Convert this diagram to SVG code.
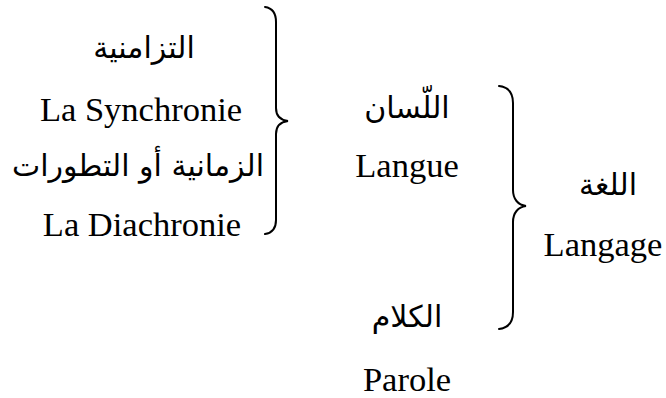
<svg xmlns="http://www.w3.org/2000/svg" width="666" height="398" viewBox="0 0 666 398">
  <style>
    .lat { font-family: "Liberation Serif", "Times New Roman", serif; font-size: 34.5px; fill: #000; text-anchor: middle; }
    .ar { font-family: "DejaVu Sans", "Noto Sans", sans-serif; font-size: 30px; fill: #000; text-anchor: middle; direction: rtl; unicode-bidi: embed; }
    .brace { fill: none; stroke: #000; stroke-width: 2; stroke-linecap: round; }
  </style>
  <rect width="666" height="398" fill="#fff"/>

  <!-- synchrony / diachrony column -->
  <g id="synchronie">
    <text class="ar" x="144" y="58">التزامنية</text>
    <text class="lat" x="141" y="121">La Synchronie</text>
  </g>
  <g id="diachronie">
    <text class="ar" x="138" y="176" textLength="252" lengthAdjust="spacingAndGlyphs">الزمانية أو التطورات</text>
    <text class="lat" x="142" y="236">La Diachronie</text>
  </g>

  <!-- langue / parole column -->
  <g id="langue">
    <text class="ar" x="407" y="118">اللّسان</text>
    <text class="lat" x="407" y="177">Langue</text>
  </g>
  <g id="parole">
    <text class="ar" x="407" y="327">الكلام</text>
    <text class="lat" x="407" y="391">Parole</text>
  </g>

  <!-- langage -->
  <g id="langage">
    <text class="ar" x="608" y="195">اللغة</text>
    <text class="lat" x="603" y="256">Langage</text>
  </g>

  <!-- grouping braces -->
  <g id="connectors">
    <path class="brace" d="M265,7 C272,8 276,13 276,22 L276,108 C276,116 280,120 288,121 C280,122 276,126 276,134 L276,220 C276,229 272,233 265,234"/>
    <path class="brace" d="M499,86 C508,87 513,93 513,103 L513,190 C513,199 518,205 526,206 C518,207 513,213 513,222 L513,312 C513,322 508,328 499,329"/>
  </g>
</svg>
